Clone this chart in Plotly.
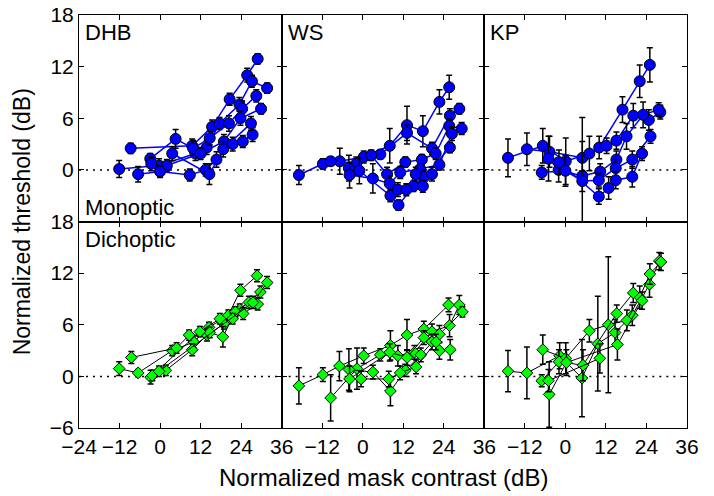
import plotly.graph_objects as go
from plotly.subplots import make_subplots

# ---------------- data ----------------
# Monoptic (top row) -- blue circles
dhb_mono_x = [[-8.7, 9.5, 15.4, 20.6, 25.8, 28.9],
              [-12.1, -0.3, 10.5, 13.8, 17.6, 23.5, 27.2, 31.7],
              [-2.9, 4.6, 9.8, 14.7, 20.4, 24.3, 28.5],
              [-2.6, 2.0, 12.0, 18.9, 23.8, 29.9],
              [-6.5, 0.0, 8.8, 13.5, 16.7, 21.5, 24.5, 27.4],
              [3.6, 14.6, 18.7, 26.9]]
dhb_mono_y = [[2.5, 2.8, 5.0, 8.2, 11.0, 12.9],
              [0.1, 0.5, 1.9, 2.6, 5.4, 7.6, 10.3, 9.5],
              [1.3, 3.6, 2.5, 3.7, 5.4, 7.1, 8.6],
              [0.7, 0.5, 1.9, 3.3, 6.0, 7.1],
              [-0.5, -0.2, -0.6, 0.0, 1.2, 3.0, 3.3, 4.1],
              [1.9, -0.5, 2.4, 5.4]]
dhb_mono_e = [[0.6, 0.8, 0.8, 0.7, 0.8, 0.6],
              [1.0, 0.8, 0.8, 0.8, 0.7, 0.8, 0.7, 0.6],
              [0.6, 1.1, 0.9, 0.8, 0.9, 0.9, 0.7],
              [0.8, 0.7, 0.7, 0.8, 0.8, 0.6],
              [0.9, 0.7, 0.7, 0.7, 0.9, 0.8, 0.7, 0.8],
              [0.8, 1.2, 0.9, 0.8]]

ws_mono_x = [[-18.9, -11.8, -6.8, 0.3, 8.0, 13.1, 17.8, 22.7, 25.6],
             [-9.5, -1.9, 5.2, 13.1, 20.5, 25.8, 28.6],
             [-4.1, 2.5, 7.2, 12.6, 17.5, 21.6, 25.6, 29.3],
             [-3.9, 3.0, 8.0, 11.1, 17.0, 22.7, 26.4],
             [-1.0, 8.2, 10.6, 15.0, 18.2, 25.8],
             [10.4, 12.9, 15.7, 17.8, 20.5]]
ws_mono_y = [[-0.6, 0.7, 1.0, 1.5, 2.8, 5.2, 4.5, 7.9, 9.6],
             [1.0, 0.7, 1.8, 4.3, 2.5, 6.3, 7.1],
             [0.2, 1.7, -0.5, 0.9, 1.2, 1.9, 5.1, 4.8],
             [-0.6, -1.0, -1.6, -0.3, 0.1, 0.6, 4.2],
             [-0.1, -3.0, -4.1, -1.9, -0.8, 2.6],
             [-2.3, -2.3, -0.5, -1.9, -0.5]]
ws_mono_e = [[1.1, 0.6, 1.5, 0.7, 2.0, 2.2, 1.8, 1.4, 1.4],
             [0.5, 0.8, 0.5, 0.9, 0.7, 0.8, 0.6],
             [1.5, 0.6, 0.8, 0.6, 0.6, 0.7, 0.8, 0.7],
             [1.5, 1.7, 0.9, 0.7, 0.6, 0.6, 0.8],
             [1.5, 0.7, 0.6, 0.6, 0.8, 0.6],
             [0.8, 0.7, 0.8, 0.7, 0.8]]

kp_mono_x = [[-11.4, -4.7, 5.0, 10.0, 16.9, 22.0, 25.0],
             [-17.0, -6.7, 0.1, 7.1, 12.2, 15.1, 20.1, 24.7, 28.1],
             [-5.0, -2.0, 5.0, 10.3, 15.1, 18.1, 23.0, 27.6],
             [-7.0, 0.0, 5.0, 9.9, 14.9, 19.8, 25.2],
             [-1.9, 9.9, 12.8, 14.9, 19.8, 22.7]]
kp_mono_y = [[2.4, 2.1, 1.4, 2.6, 7.0, 10.3, 12.2],
             [1.4, 2.8, 1.0, 1.9, 2.8, 3.4, 6.3, 5.8, 6.7],
             [1.3, 0.0, -0.7, -0.2, 1.2, 3.9, 6.4, 7.0],
             [-0.3, -0.1, -1.3, -1.2, 0.2, 1.2, 3.9],
             [0.9, -3.1, -2.1, -1.2, -0.8, 1.9]]
kp_mono_e = [[1.9, 1.8, 1.9, 1.3, 1.5, 1.9, 2.0],
             [2.2, 2.0, 2.7, 2.0, 0.9, 1.0, 1.4, 1.2, 0.8],
             [2.6, 1.4, 6.8, 0.9, 1.0, 1.5, 1.5, 0.8],
             [0.8, 1.8, 1.2, 0.8, 1.0, 1.0, 0.8],
             [1.4, 0.9, 1.3, 1.0, 1.2, 0.8]]

# Dichoptic (bottom row) -- green diamonds
dhb_dich_x = [[-12.1, -6.5, 3.6, 10.0, 14.5, 20.2, 23.8, 28.7],
              [-8.5, 4.9, 8.6, 13.9, 18.9, 23.6, 29.7],
              [-2.8, 1.7, 9.5, 14.7, 18.6, 22.3, 26.3],
              [-2.3, 11.8, 17.7, 21.5, 24.6, 28.9],
              [-0.3, 27.5, 31.7]]
dhb_dich_y = [[0.9, 0.4, 3.0, 4.0, 5.7, 7.1, 10.0, 11.7],
              [2.2, 3.3, 4.8, 4.8, 6.1, 7.8, 9.8],
              [-0.1, 0.7, 3.1, 5.1, 4.6, 7.5, 8.6],
              [0.1, 5.2, 6.7, 6.7, 7.3, 8.4],
              [0.6, 8.6, 10.9]]
dhb_dich_e = [[0.8, 0.4, 0.6, 0.7, 0.6, 0.6, 0.7, 0.7],
              [0.7, 0.6, 0.6, 0.7, 0.6, 0.6, 0.7],
              [0.8, 0.6, 0.7, 0.6, 1.2, 0.6, 0.7],
              [0.6, 0.6, 0.6, 0.6, 0.7, 0.7],
              [0.6, 0.7, 0.7]]

ws_dich_x = [[-18.9, -11.8, -6.9, 0.3, 8.2, 13.1, 18.1, 25.4],
             [-9.5, -1.7, 5.2, 10.4, 15.3, 20.5, 25.7, 28.6],
             [-4.1, 3.0, 8.2, 12.6, 17.2, 22.7, 29.5],
             [-3.9, 8.0, 13.1, 18.1, 20.5, 22.7, 25.9],
             [-0.5, 7.7, 11.1, 15.8, 21.7]]
ws_dich_y = [[-1.1, 0.2, 1.2, 2.4, 3.6, 4.8, 5.5, 8.3],
             [-2.5, 0.9, 2.5, 2.4, 2.8, 5.2, 5.9, 8.3],
             [0.8, 0.5, -1.7, 0.7, 2.5, 4.9, 7.5],
             [-0.3, 2.8, 2.2, 4.5, 4.0, 3.0, 3.1],
             [-0.3, -0.3, 0.4, 1.1, 4.0]]
ws_dich_e = [[2.1, 0.8, 1.7, 0.9, 1.7, 1.8, 0.9, 0.8],
             [2.7, 2.4, 0.7, 1.2, 0.8, 0.9, 1.3, 1.1],
             [2.4, 0.8, 1.7, 0.7, 0.8, 1.0, 0.6],
             [1.5, 1.0, 0.9, 0.8, 0.9, 1.0, 1.2],
             [0.9, 0.9, 0.8, 0.8, 0.9]]

kp_dich_x = [[-17.0, -11.4, -1.7, 4.9, 9.6, 14.7, 19.8, 24.9, 27.8],
             [-6.7, 0.1, 7.1, 12.7, 18.2, 22.0, 25.0, 28.3],
             [-7.0, -1.9, 5.2, 15.2, 20.1],
             [-4.8, 0.3, 15.4, 22.7],
             [-5.0, 10.2]]
kp_dich_y = [[0.6, 0.4, 2.4, -0.2, 3.8, 5.1, 7.1, 10.7, 13.4],
             [3.1, 2.1, 5.3, 6.0, 6.5, 9.2, 11.9, 13.3],
             [-0.5, 1.7, 1.3, 7.3, 9.7],
             [-2.1, 1.6, 3.7, 8.8],
             [-0.5, 2.1]]
kp_dich_e = [[2.4, 3.0, 1.5, 4.5, 5.5, 1.5, 1.2, 1.5, 1.0],
             [1.7, 1.8, 1.3, 7.9, 1.2, 1.3, 1.2, 1.0],
             [0.7, 1.4, 1.8, 1.0, 1.1],
             [3.8, 1.5, 1.8, 1.0],
             [1.3, 1.7]]

subjects = ["DHB", "WS", "KP"]
x_ticks = [-24, -12, 0, 12, 24, 36]
y_ticks = [-6, 0, 6, 12, 18]

# ---------------- figure ----------------
FONT = "Liberation Sans, Arial, Helvetica, sans-serif"
fig = make_subplots(rows=2, cols=3, horizontal_spacing=0, vertical_spacing=0)

mono = [(dhb_mono_x, dhb_mono_y, dhb_mono_e),
        (ws_mono_x, ws_mono_y, ws_mono_e),
        (kp_mono_x, kp_mono_y, kp_mono_e)]
dich = [(dhb_dich_x, dhb_dich_y, dhb_dich_e),
        (ws_dich_x, ws_dich_y, ws_dich_e),
        (kp_dich_x, kp_dich_y, kp_dich_e)]

for c, (xs, ys, es) in enumerate(mono, start=1):
    for x, y, e in zip(xs, ys, es):
        fig.add_trace(go.Scatter(
            x=x, y=y, mode="lines+markers",
            line=dict(color="#0000ff", width=1.5),
            marker=dict(symbol="circle", size=11, color="#0000ff",
                        line=dict(color="black", width=1)),
            error_y=dict(type="data", array=e, color="black",
                         thickness=1.5, width=3),
            showlegend=False, cliponaxis=True), row=1, col=c)

for c, (xs, ys, es) in enumerate(dich, start=1):
    for x, y, e in zip(xs, ys, es):
        fig.add_trace(go.Scatter(
            x=x, y=y, mode="lines+markers",
            line=dict(color="black", width=1),
            marker=dict(symbol="diamond", size=9, color="#00ff00",
                        line=dict(color="black", width=1)),
            error_y=dict(type="data", array=e, color="black",
                         thickness=1.5, width=3),
            showlegend=False, cliponaxis=True), row=2, col=c)

def fmt(v):
    return ("\u2212" + str(abs(v))) if v < 0 else str(v)

axis_common = dict(showline=True, mirror="ticks", linecolor="black",
                   linewidth=1, ticks="inside", ticklen=5, tickwidth=1,
                   tickcolor="black", showgrid=False, zeroline=False,
                   tickfont=dict(family=FONT, size=21, color="black"))

for r in (1, 2):
    for c in (1, 2, 3):
        xt = [fmt(v) for v in x_ticks]
        if c > 1:
            xt[0] = ""
        fig.update_xaxes(range=[-24, 36], tickvals=x_ticks, ticktext=xt,
                         showticklabels=(r == 2), row=r, col=c, **axis_common)
        yt = [fmt(v) for v in y_ticks]
        if r == 1:
            yt[0] = ""
        fig.update_yaxes(range=[-6, 18], tickvals=y_ticks, ticktext=yt,
                         showticklabels=(c == 1), row=r, col=c, **axis_common)

# dotted zero lines
for i in range(1, 7):
    sfx = "" if i == 1 else str(i)
    fig.add_shape(type="line", xref=f"x{sfx} domain", yref=f"y{sfx}",
                  x0=0, x1=1, y0=0, y1=0,
                  line=dict(color="black", width=1.5, dash="2px,5px"), layer="below")

# panel labels
for i, s in enumerate(subjects, start=1):
    sfx = "" if i == 1 else str(i)
    fig.add_annotation(text=s, xref=f"x{sfx} domain", yref=f"y{sfx} domain",
                       x=0.02, y=0.985, xanchor="left", yanchor="top",
                       showarrow=False, font=dict(family=FONT, size=22, color="black"))
fig.add_annotation(text="Monoptic", xref="x domain", yref="y domain",
                   x=0.02, y=0.0, xanchor="left", yanchor="bottom",
                   showarrow=False, font=dict(family=FONT, size=22, color="black"))
fig.add_annotation(text="Dichoptic", xref="x4 domain", yref="y4 domain",
                   x=0.02, y=0.985, xanchor="left", yanchor="top",
                   showarrow=False, font=dict(family=FONT, size=22, color="black"))

# axis titles
fig.add_annotation(text="Normalized mask contrast (dB)", xref="paper", yref="paper",
                   x=0.5, y=-0.12, xanchor="center", yanchor="middle",
                   showarrow=False, font=dict(family=FONT, size=24, color="black"))
fig.add_annotation(text="Normalized threshold (dB)", xref="paper", yref="paper",
                   x=-0.094, y=0.5, xanchor="center", yanchor="middle", textangle=-90,
                   showarrow=False, font=dict(family=FONT, size=23, color="black"))

fig.update_layout(width=714, height=496,
                  margin=dict(l=79, r=27, t=15, b=68, autoexpand=False),
                  paper_bgcolor="white", plot_bgcolor="white",
                  font=dict(family=FONT, color="black"))

fig.write_html("out.html", config={"displayModeBar": False},
               post_script="document.body.style.margin='0';document.body.style.overflow='hidden';")
